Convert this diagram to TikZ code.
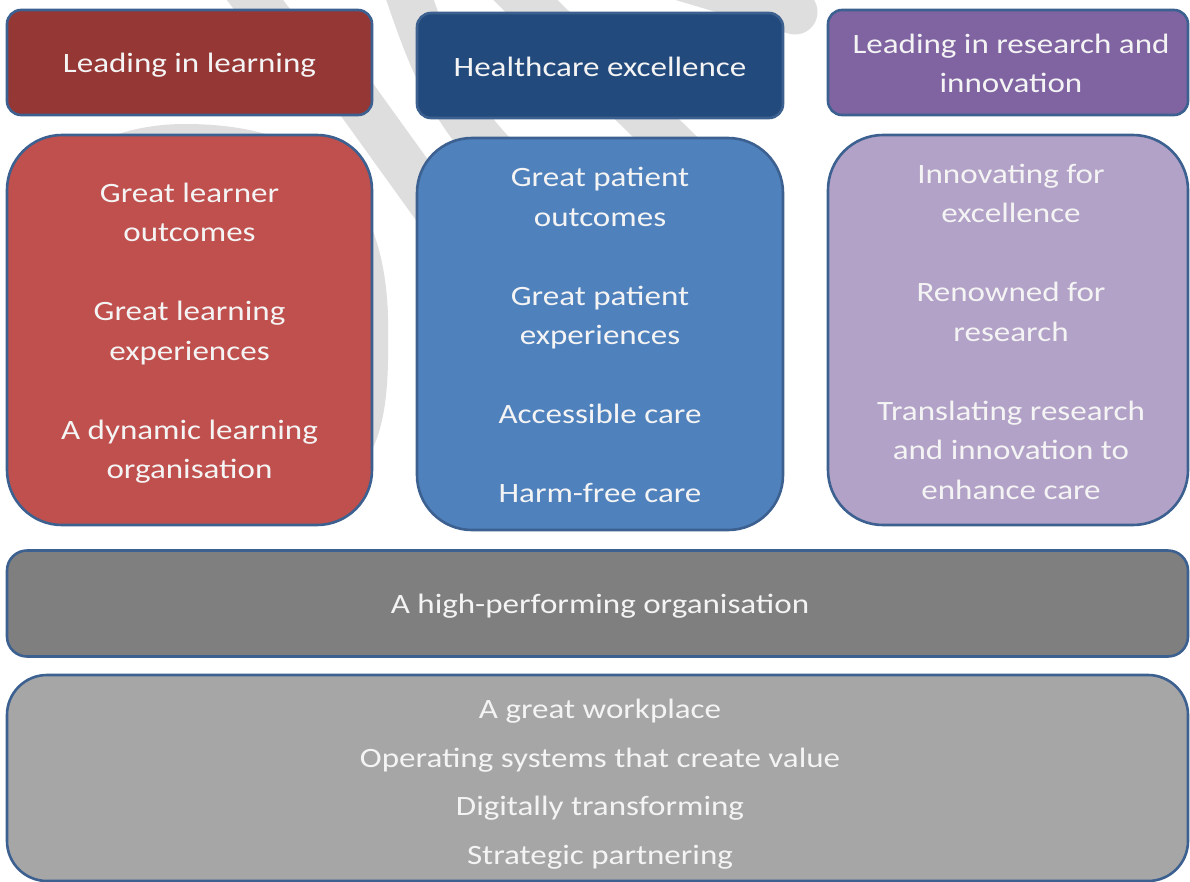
\documentclass[tikz,border=0pt]{standalone}
\usepackage{fontspec}
\setmainfont{Carlito}[FakeStretch=1.18]
\definecolor{edge}{HTML}{3C6190}
\definecolor{redhead}{HTML}{953735}
\definecolor{redbody}{HTML}{C0504D}
\definecolor{bluehead}{HTML}{234A7C}
\definecolor{bluebody}{HTML}{4F81BD}
\definecolor{purphead}{HTML}{8064A2}
\definecolor{purpbody}{HTML}{B3A2C7}
\definecolor{darkbar}{HTML}{7F7F7F}
\definecolor{lightbar}{HTML}{A6A6A6}
\definecolor{wmgray}{HTML}{DEDEDE}
\definecolor{label}{HTML}{F4F4F4}
\begin{document}
\begin{tikzpicture}[x=1pt,y=-1pt,
  panel/.style={draw=edge,line width=2.6pt,inner sep=0pt},
  headbox/.style={panel,rounded corners=14pt},
  bodybox/.style={panel,rounded corners=55pt},
  barbox/.style={panel,rounded corners=20pt},
  basebox/.style={panel,rounded corners=40pt},
  wmstroke/.style={draw=wmgray,line width=45pt},
  txt/.style={text=label,align=center,inner sep=0pt,yshift=-3pt,
    font=\fontsize{28}{39.5}\selectfont}]
\useasboundingbox (0,0) rectangle (1190,881);
\fill[white] (0,0) rectangle (1190,881);
% faint watermark strokes behind the panels
\fill[wmgray] (185,124) .. controls (320,124) and (392,190) .. (388,340)
  .. controls (390,460) and (360,490) .. (280,505) -- (60,480) -- (40,200)
  .. controls (60,150) and (120,124) .. (185,124) -- cycle;
\draw[wmstroke] (350,90) -- (440,215);
\draw[wmstroke] (240,-20) -- (300,60);
\draw[wmstroke] (405,-15) .. controls (430,60) and (450,110) .. (500,160);
\draw[wmstroke] (505,-20) -- (760,230);
\draw[wmstroke,line cap=round] (620,-40) -- (795,12);
% column headers
\node[headbox,fill=redhead,minimum width=365pt,minimum height=105pt] (h1) at (189.5,62.5) {};
\node[headbox,fill=bluehead,minimum width=366pt,minimum height=105pt] (h2) at (600,65.5) {};
\node[headbox,fill=purphead,minimum width=360pt,minimum height=105pt] (h3) at (1008,62.5) {};
% column bodies
\node[bodybox,fill=redbody,minimum width=365pt,minimum height=390pt] (b1) at (189.5,330) {};
\node[bodybox,fill=bluebody,minimum width=366pt,minimum height=392pt] (b2) at (600,334) {};
\node[bodybox,fill=purpbody,minimum width=360pt,minimum height=390pt] (b3) at (1008,330) {};
% shared foundations
\node[barbox,fill=darkbar,minimum width=1181pt,minimum height=106pt] (bar) at (597.5,603.5) {};
\node[basebox,fill=lightbar,minimum width=1181pt,minimum height=206pt] (base) at (597.5,778) {};
% labels
\node[txt] (th1) at (h1.center) {Leading in learning};
\node[txt,yshift=2pt] (th2) at (h2.center) {Healthcare excellence};
\node[txt,xshift=3pt,yshift=2pt] (th3) at (h3.center) {Leading in research and\\innovation};
\node[txt] (tb1) at (b1.center) {Great learner\\outcomes\\[39.5pt]Great learning\\experiences\\[39.5pt]A dynamic learning\\organisation};
\node[txt,yshift=2pt] (tb2) at (b2.center) {Great patient\\outcomes\\[39.5pt]Great patient\\experiences\\[39.5pt]Accessible care\\[39.5pt]Harm-free care};
\node[txt,xshift=3pt,yshift=1.5pt] (tb3) at (b3.center) {Innovating for\\excellence\\[39.5pt]Renowned for\\research\\[39.5pt]Translating research\\and innovation to\\enhance care};
\node[txt,xshift=2.5pt] (tbar) at (bar.center) {A high-performing organisation};
\node[txt,xshift=2.5pt,yshift=-3pt] (tbase) at (base.center) {A great workplace\\[9pt]Operating systems that create value\\[9pt]Digitally transforming\\[9pt]Strategic partnering};
\end{tikzpicture}
\end{document}
